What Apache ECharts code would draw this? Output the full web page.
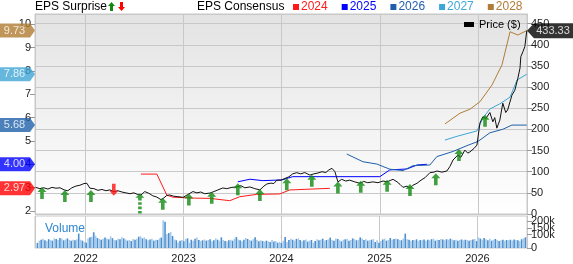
<!DOCTYPE html>
<html><head><meta charset="utf-8">
<script src="https://cdn.jsdelivr.net/npm/echarts@6/dist/echarts.min.js"></script>
<style>html,body{margin:0;padding:0;background:#fff}#c{width:573px;height:264px}</style>
</head><body><div id="c"></div>
<script>
// ---------------- DATA ----------------
const priceDates = ['2021-07-01','2021-07-17','2021-08-01','2021-08-16','2021-08-31','2021-09-15','2021-09-30','2021-10-15','2021-10-29','2021-11-13','2021-11-28','2021-12-13','2021-12-28',
'2022-01-08','2022-01-19','2022-02-03','2022-02-18','2022-03-05','2022-03-20','2022-04-03','2022-04-18','2022-05-03','2022-05-18','2022-06-02','2022-06-17','2022-07-02','2022-07-16','2022-07-28','2022-08-11','2022-08-26','2022-09-10','2022-09-25','2022-10-10','2022-10-21','2022-11-01','2022-11-12','2022-11-27','2022-12-12',
'2023-01-01','2023-01-18','2023-02-06','2023-02-21','2023-03-07','2023-03-22','2023-04-10','2023-04-25','2023-05-10','2023-05-28','2023-06-12','2023-07-01','2023-07-19','2023-08-03','2023-08-18','2023-09-06','2023-09-24','2023-10-13','2023-10-28','2023-11-08','2023-11-23','2023-12-04','2023-12-15','2023-12-30',
'2024-01-14','2024-01-29','2024-02-12','2024-02-27','2024-03-13','2024-03-28','2024-04-16','2024-05-01','2024-05-16','2024-05-31','2024-06-14','2024-06-25','2024-07-07','2024-07-18','2024-07-29','2024-08-12','2024-08-27','2024-09-11','2024-09-30','2024-10-19','2024-11-02','2024-11-17','2024-12-06','2024-12-25',
'2025-01-13','2025-01-28','2025-02-11','2025-02-19','2025-03-06','2025-03-17','2025-03-28','2025-04-12','2025-04-23','2025-05-04','2025-05-19','2025-06-03','2025-06-18','2025-07-06','2025-07-21','2025-08-01','2025-08-20','2025-09-07','2025-09-18','2025-09-30','2025-10-18','2025-10-29','2025-11-13','2025-11-24','2025-12-02','2025-12-17','2025-12-28',
'2026-01-08','2026-01-19','2026-01-30','2026-02-14','2026-02-25','2026-03-04','2026-03-12','2026-03-23','2026-04-03','2026-04-14','2026-04-21','2026-05-07','2026-05-18','2026-05-29','2026-06-06','2026-06-09','2026-06-17','2026-06-24','2026-07-01'];
const priceValues = [63,60,62,59,63,61,62,57,55,62,66,68,72,
72.6,61,60,56,58,55,57,53,55,52,50,48,50,46,45,53,49,43,40,34,38,44,45,42,41,
39.5,46,53,50,52,48,49.5,53,57,61.5,60,63,64,67,62,64,60,57,66,71,73,72,80,80,
84,88,95,97.7,95,98,92,95,97,100,98,104,108,100,76,82,78,80,76,72.6,77,74,76,74,
78,76,80,82,76,70,63,66,61,68,72.6,80,86,97.7,99,101.7,99,101.7,112,127.7,139.5,134,151,144,147,155,163,
215,230,226,240,218,228,203,222,262,240,246,281,293,321,345,372,384,396,433.33];

const epsYears = ['2024','2025','2026','2027','2028'];
const eps2024Dates = ['2022-07-28','2022-09-25','2022-11-01','2022-11-23','2023-02-13','2023-04-10','2023-06-23','2023-07-30','2023-10-01','2023-12-26','2024-02-01','2024-06-29'];
const eps2024Values = [3.58,3.58,2.68,2.59,2.55,2.54,2.44,2.61,2.71,2.73,2.90,2.97];
const eps2025Dates = ['2023-07-23','2023-09-06','2023-10-24','2024-01-03','2024-02-12','2025-01-01','2025-02-07','2025-04-12','2025-05-19','2025-06-25'];
const eps2025Values = [3.25,3.36,3.30,3.33,3.47,3.47,3.76,3.80,3.97,4.00];
const eps2026Dates = ['2024-08-31','2024-10-30','2024-12-21','2025-02-07','2025-03-28','2025-05-04','2025-07-06','2025-08-01','2025-09-30','2025-11-21','2026-01-01','2026-02-14','2026-04-03','2026-05-07','2026-07-01'];
const eps2026Values = [4.44,4.11,4.01,3.79,3.73,3.94,3.97,4.33,4.55,4.80,4.98,5.35,5.50,5.68,5.68];
const eps2027Dates = ['2025-08-31','2025-10-18','2025-12-28','2026-01-19','2026-02-14','2026-03-23','2026-04-30','2026-05-26','2026-07-01'];
const eps2027Values = [5.04,5.21,5.43,5.98,6.37,6.59,6.88,7.61,7.86];
const eps2028Dates = ['2025-08-31','2025-10-26','2025-12-02','2026-01-08','2026-02-22','2026-03-31','2026-04-30','2026-05-29','2026-07-01'];
const eps2028Values = [5.73,6.19,6.36,6.68,7.40,8.26,9.68,9.54,9.73];

const tagValues = [9.73, 7.86, 5.68, 4.00, 2.97];
const lastPrice = 433.33;

const upArrowDates = ['2021-07-25','2021-10-18','2022-01-23','2022-10-17','2023-01-22','2023-04-17','2023-07-23','2023-10-13','2024-01-21','2024-04-23','2024-07-29','2024-10-22','2025-01-28','2025-04-23','2025-07-28','2025-10-22','2026-01-27'];
const upArrowValues = [49.7,42.6,42.6,24,34.3,38.3,58.7,45,70.5,78.5,62.7,64.6,66.7,56.8,82.3,139.5,220.4];
const downArrowDates = ['2022-04-18'];
const downArrowValues = [57.5];
const bigUpArrowDates = ['2022-07-24'];
const bigUpArrowValues = [24.8];

const volumeStart = '2021-07-05';
const volumeK = [
38,55,62,70,58,52,66,60,55,72,68,60,75,70,58,64,72,60,55,62,58,66,108,62,55,44,
40,72,80,85,118,92,75,68,62,70,78,72,65,88,74,60,58,70,66,80,72,64,55,60,52,68,
62,70,85,88,72,80,66,58,64,70,55,62,60,72,78,208,196,105,112,120,90,64,58,42,55,60,
50,68,72,40,62,55,70,78,60,52,58,64,55,60,66,50,58,72,62,54,80,60,52,48,58,62,
55,70,82,64,58,50,62,75,68,60,55,66,80,62,50,58,52,48,55,50,45,60,48,52,40,46,
38,55,82,45,60,70,62,55,68,72,60,50,58,64,48,55,60,40,52,66,58,62,70,55,60,65,
78,60,55,72,68,58,50,62,65,70,55,60,72,66,58,62,80,72,60,65,55,58,62,68,45,58,
40,52,64,70,55,60,75,62,68,72,66,60,58,72,108,65,62,55,60,58,65,52,60,58,64,55,
62,58,66,70,55,62,60,68,64,58,66,62,70,64,58,62,55,60,64,58,62,60,55,60,64,68,
52,80,70,62,75,66,58,70,55,62,68,60,52,58,62,55,60,58,62,56,64,60,58,52,66,72,80];

const epsTicks = [2,3,4,5,6,7,8,9,10];

// ---------------- STYLE ----------------
const FONT = 'Liberation Sans, Arial, sans-serif';
const epsColors = ['#ff1a1a','#0000ff','#1f5fab','#3ca6d8','#b07c38'];
const tagColors = ['#b07a30','#3fa5d5','#1e60aa','#0000ff','#ff0000'];
const X_MIN = '2021-06-29', X_MAX = '2026-07-02';

const zip = (d, v) => d.map((x, i) => [x, v[i]]);
const volData = volumeK.map((v, i) => {
  const t = new Date(volumeStart + 'T00:00:00Z').getTime() + i * 7 * 864e5;
  return [t, v * 1000];
});

const upPath = 'path://M5,0 L10,5 L7,5 L7,12 L3,12 L3,5 L0,5 Z';
const downPath = 'path://M3,0 L7,0 L7,7 L10,7 L5,12 L0,7 L3,7 Z';
const bigUpPath = 'path://M5,0 L10,5 L7,5 L7,8 L3,8 L3,5 L0,5 Z M3,10 L7,10 L7,13 L3,13 Z M3,15 L7,15 L7,18 L3,18 Z M3,20 L7,20 L7,23 L3,23 Z';
const leftTagPath = 'path://M0,0 L30,0 L35,7 L30,14 L0,14 Z';
const rightTagPath = 'path://M0,7.5 L7,0 L46,0 L46,15 L7,15 Z';

const chart = echarts.init(document.getElementById('c'), null, {renderer: 'canvas'});

const xBase = (gi, labels) => ({
  type: 'time', gridIndex: gi, min: X_MIN, max: X_MAX,
  splitNumber: 5, minInterval: 365 * 864e5,
  axisLine: {show: false}, axisTick: {show: false},
  axisLabel: labels ? {show: true, formatter: '{yyyy}', fontSize: 11, color: '#222', fontFamily: FONT, margin: 5, showMinLabel: false, showMaxLabel: false} : {show: false},
  splitLine: {show: true, lineStyle: {color: '#c8c8c8', width: 1}}
});

const epsSeries = epsYears.map((y, i) => ({
  name: y, type: 'line', xAxisIndex: 0, yAxisIndex: 0, symbol: 'none',
  lineStyle: {color: epsColors[i], width: 1}, itemStyle: {color: epsColors[i]},
  data: zip([eps2024Dates, eps2025Dates, eps2026Dates, eps2027Dates, eps2028Dates][i],
            [eps2024Values, eps2025Values, eps2026Values, eps2027Values, eps2028Values][i]),
  z: 3
}));

const option = {
  animation: false,
  textStyle: {fontFamily: FONT},
  grid: [
    {left: 35, top: 14, width: 492, height: 200, show: true,
     backgroundColor: new echarts.graphic.LinearGradient(0, 0, 0, 1, [{offset: 0, color: '#e3e3e3'}, {offset: 1, color: '#ffffff'}]),
     borderColor: '#c8c8c8', borderWidth: 1},
    {left: 35, top: 216, width: 492, height: 36, show: true, backgroundColor: '#ffffff', borderColor: '#c8c8c8', borderWidth: 1}
  ],
  xAxis: [xBase(0, false), xBase(1, true)],
  yAxis: [
    {type: 'value', gridIndex: 0, position: 'left', min: 1.87, max: 10.44,
     axisLine: {show: true, lineStyle: {color: '#c8c8c8'}},
     axisTick: {show: true, length: 5, customValues: epsTicks, lineStyle: {color: '#999'}},
     axisLabel: {customValues: epsTicks, fontSize: 11, color: '#222', margin: 4, fontFamily: FONT},
     splitLine: {show: false}},
    {type: 'value', gridIndex: 0, position: 'right', min: 0, max: 473, interval: 50,
     axisLine: {show: true, lineStyle: {color: '#c8c8c8'}},
     axisTick: {show: true, length: 5, lineStyle: {color: '#999'}},
     axisLabel: {fontSize: 11, color: '#222', margin: 4, fontFamily: FONT, showMinLabel: true, hideOverlap: false},
     splitLine: {show: true, lineStyle: {color: '#c8c8c8'}}},
    {type: 'value', gridIndex: 1, position: 'right', min: 0, max: 240000, interval: 50000,
     axisLine: {show: true, lineStyle: {color: '#c8c8c8'}},
     axisTick: {show: true, length: 5, lineStyle: {color: '#999'}},
     axisLabel: {fontSize: 11, color: '#222', margin: 4, lineHeight: 8, fontFamily: FONT, showMinLabel: true, hideOverlap: false,
       formatter: v => v === 0 ? '0' : (v / 1000) + 'k'},
     splitLine: {show: false}}
  ],
  legend: [
    {data: epsYears.map((y, i) => ({name: y, itemStyle: {color: epsColors[i]}, textStyle: {color: epsColors[i]}})),
     left: 293, top: 1, padding: 0, icon: 'rect', itemWidth: 6, itemHeight: 6, itemGap: 14, selectedMode: false,
     textStyle: {fontSize: 12, fontFamily: FONT, padding: [0, 0, 0, -3]}},
    {data: ['Price ($)'], left: 464, top: 19, padding: 0, icon: 'rect', itemWidth: 10, itemHeight: 5, selectedMode: false,
     textStyle: {fontSize: 11, color: '#000', fontFamily: FONT}}
  ],
  graphic: [
    {type: 'text', left: 35, top: 1, style: {text: 'EPS Surprise', fontSize: 12, fill: '#000', fontFamily: FONT}},
    {type: 'polygon', x: 108, y: 2, shape: {points: [[3.5,0],[7,4],[5,4],[5,9],[2,9],[2,4],[0,4]]}, style: {fill: '#128a12'}},
    {type: 'polygon', x: 118, y: 2, shape: {points: [[2,0],[5,0],[5,5],[7,5],[3.5,9],[0,5],[2,5]]}, style: {fill: '#ff0000'}},
    {type: 'text', left: 197, top: 1, style: {text: 'EPS Consensus', fontSize: 12, fill: '#000', fontFamily: FONT}},
    {type: 'text', left: 45, top: 223, style: {text: 'Volume', fontSize: 12, fill: '#2f86d0', fontFamily: FONT}}
  ],
  series: [
    {name: 'Volume', type: 'bar', xAxisIndex: 1, yAxisIndex: 2, barWidth: 1.6,
     data: volData,
     itemStyle: {color: p => (p.dataIndex % 2 === 0 ? '#4a8fd1' : '#a6caea')}},
    ...epsSeries,
    {name: 'Price ($)', type: 'line', xAxisIndex: 0, yAxisIndex: 1, symbol: 'none',
     lineStyle: {color: '#111', width: 1}, itemStyle: {color: '#000'},
     data: zip(priceDates, priceValues), z: 4},
    {name: 'up', type: 'scatter', xAxisIndex: 0, yAxisIndex: 1, symbol: upPath, symbolSize: [9, 12], symbolKeepAspect: false,
     itemStyle: {color: '#118a11'}, data: zip(upArrowDates, upArrowValues), z: 5, clip: false},
    {name: 'bigup', type: 'scatter', xAxisIndex: 0, yAxisIndex: 1, symbol: bigUpPath, symbolSize: [9, 20], symbolKeepAspect: false,
     itemStyle: {color: '#118a11'}, data: zip(bigUpArrowDates, bigUpArrowValues), z: 5, clip: false},
    {name: 'down', type: 'scatter', xAxisIndex: 0, yAxisIndex: 1, symbol: downPath, symbolSize: [9, 12], symbolKeepAspect: false,
     itemStyle: {color: '#ff1010'}, data: zip(downArrowDates, downArrowValues), z: 5, clip: false},
    {name: 'tags', type: 'scatter', xAxisIndex: 0, yAxisIndex: 0, symbol: leftTagPath, symbolSize: [35, 14], symbolKeepAspect: false,
     symbolOffset: [-17.5, 0], clip: false, z: 10,
     data: tagValues.map((v, i) => ({value: [X_MIN, v], itemStyle: {color: tagColors[i]}})),
     label: {show: true, position: 'inside', offset: [-3, 0], color: '#fff', fontSize: 11, fontFamily: FONT,
       formatter: p => p.value[1].toFixed(2)}},
    {name: 'pricetag', type: 'scatter', xAxisIndex: 0, yAxisIndex: 1, symbol: rightTagPath, symbolSize: [46, 15], symbolKeepAspect: false,
     symbolOffset: [23, 0], clip: false, z: 10,
     data: [{value: [X_MAX, lastPrice], itemStyle: {color: '#000'}}],
     label: {show: true, position: 'inside', offset: [3, 0], color: '#fff', fontSize: 11, fontFamily: FONT,
       formatter: p => p.value[1].toFixed(2)}}
  ]
};
chart.setOption(option);
</script>
</body></html>
